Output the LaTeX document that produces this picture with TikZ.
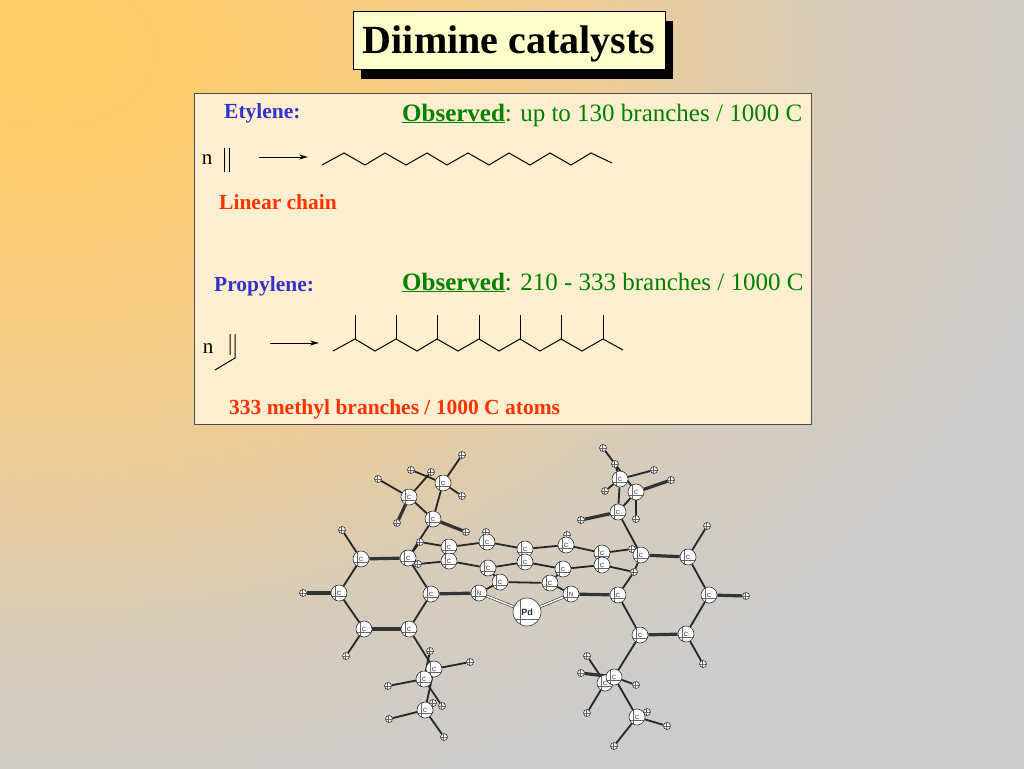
\documentclass[tikz,border=0pt]{standalone}
\usepackage{fontspec}
\setmainfont{Liberation Serif}
\setsansfont{Liberation Sans}
\usetikzlibrary{arrows.meta,shadows}

\definecolor{boxfill}{RGB}{255,239,208}
\definecolor{titlefill}{RGB}{255,255,204}
\definecolor{namecol}{RGB}{51,51,204}
\definecolor{seencol}{RGB}{0,128,0}
\definecolor{notecol}{RGB}{255,51,0}
\pgfdeclareradialshading{slidebg}{\pgfpoint{0bp}{0bp}}{%
    rgb(0bp)=(1,0.8,0.4);
    rgb(0.9bp)=(1,0.8,0.4);
    rgb(5.7bp)=(0.96,0.8,0.51);
    rgb(8.6bp)=(0.93,0.8,0.59);
    rgb(12.5bp)=(0.84,0.8,0.73);
    rgb(16.4bp)=(0.8,0.8,0.8);
    rgb(50bp)=(0.8,0.8,0.8)}
\pgfdeclarelayer{bonds}
\pgfsetlayers{bonds,main}

\begin{document}
\begin{tikzpicture}
        [
            x = 1pt, y = -1pt,
            every node/.style = {inner sep = 0pt},
            title/.style = {draw = black, line width = 0.8pt, fill = titlefill, minimum width = 312pt, minimum height = 58pt,
                    text height = 27pt, text depth = 1pt,
                    font = \fontsize{40}{46}\selectfont\bfseries,
                    drop shadow = {shadow xshift = 8pt, shadow yshift = -10pt, fill = black, opacity = 1}},
            panel/.style = {draw = black!70, line width = 0.8pt, fill = boxfill},
            monomer/.style = {font = \fontsize{21.5}{25}\selectfont\bfseries, text = namecol, anchor = base west},
            seen/.style = {font = \fontsize{25}{29}\selectfont, text = seencol, anchor = base west},
            note/.style = {font = \fontsize{21.5}{25}\selectfont\bfseries, text = notecol, anchor = base west},
            count/.style = {font = \fontsize{21}{24}\selectfont, anchor = base},
            skeleton/.style = {line width = 1pt, line join = miter, black},
            react/.style = {line width = 1pt, -{Stealth[length = 9pt, width = 5pt]}},
            ball/.style = {circle, draw = black!80, line width = 0.6pt, fill = white, text = black!85},
            catom/.style = {ball, minimum size = 16pt, font = \sffamily\fontsize{6}{7}\selectfont,
                    path picture = {\draw[black!60, line width = 0.3pt]
                            ([xshift = -3.5pt]path picture bounding box.north) -- ([xshift = -3.5pt]path picture bounding box.south)
                            ([yshift = -3.5pt]path picture bounding box.west) -- ([yshift = -3.5pt]path picture bounding box.east);}},
            hatom/.style = {ball, minimum size = 7pt,
                    path picture = {\draw[black!60, line width = 0.3pt]
                            ([xshift = -0.5pt]path picture bounding box.north) -- ([xshift = -0.5pt]path picture bounding box.south)
                            (path picture bounding box.west) -- (path picture bounding box.east);}},
            patom/.style = {ball, minimum size = 28pt, font = \sffamily\bfseries\fontsize{9}{10}\selectfont,
                    path picture = {\draw[black!60, line width = 0.4pt]
                            ([xshift = -7pt]path picture bounding box.north) -- ([xshift = -7pt]path picture bounding box.south)
                            ([yshift = -7pt]path picture bounding box.west) -- ([yshift = -7pt]path picture bounding box.east);}},
            bond/.style = {line width = 1.8pt, black!85},
            heavybond/.style = {line width = 3.2pt, black!80},
            pdbond/.style = {line width = 0.6pt, draw = black!80, double = white, double distance = 1.5pt},
        ]

        \useasboundingbox (0,0) rectangle (1024,768);
        \begin{pgfonlayer}{bonds}
            \begin{scope}
                \clip (0,0) rectangle (1024,768);
                \shade[shading = slidebg] (50,50) ellipse (1587 and 1190);
            \end{scope}
        \end{pgfonlayer}

        \node[title] (heading) at (509,40) {Diimine catalysts};
        \draw[panel] (194,93) rectangle (811,424);

        \node[monomer] (etylene) at (224,118) {Etylene:};
        \node[seen] (seenA) at (402,121) {\textbf{\underline{Observed}}: up to 130 branches / 1000 C};
        \node[count] (nA) at (207,164) {n};
        \node[note] (linear) at (219,209) {Linear chain};
        \node[monomer] (propylene) at (214,291) {Propylene:};
        \node[seen] (seenB) at (402,290) {\textbf{\underline{Observed}}: 210 - 333 branches / 1000 C};
        \node[count] (nB) at (208,353) {n};
        \node[note] (methyl) at (229,414) {333 methyl branches / 1000 C atoms};

        % monomers and arrows
        \draw[skeleton] (224,148) -- (224,172) (229,148) -- (229,172);
        \draw[skeleton] (230,334) -- (230,355) (235,334) -- (235,358) -- (215,370);
        \coordinate (arrowAs) at (259,157);
        \coordinate (arrowAe) at (308,157);
        \coordinate (arrowBs) at (270,343);
        \coordinate (arrowBe) at (319,343);
        \draw[react] (arrowAs) -- (arrowAe);
        \draw[react] (arrowBs) -- (arrowBe);

        % polymer chains
        \draw[skeleton] (322,165) -- (344,153) -- (365,165) -- (385,153) -- (406,165) -- (427,153) -- (447,165) -- (468,153)
                -- (489,165) -- (509,153) -- (530,165) -- (550,153) -- (571,165) -- (591,153) -- (612,163);
        \draw[skeleton] (333,351) -- (355,339) -- (375,351) -- (396,339) -- (417,351) -- (437,339) -- (458,351) -- (479,339)
                -- (499,351) -- (520,339) -- (540,351) -- (561,339) -- (582,351) -- (603,339) -- (623,350);
        \foreach \px in {355,396,437,479,520,561,603}
            \draw[skeleton] (\px,339) -- (\px,315);

        % hydrogens, then carbons, then the metal
        \foreach \name/\px/\py in {
                ha/462/455, hb/462/496, hc/431/472, hd/411/470, he/378/479, hf/397/523, hg/466/532,
                hh/486/532, hi/567/535, hj/342/530, hk/303/593, hl/346/656, hm/430/651, hn/470/662,
                ho/388/686, hp/442/706, hq/433/703, hr/389/719, hs/444/737,
                ht/603/448, hu/615/464, hv/654/470, hw/605/491, hx/671/480, hy/636/519, hz/581/520,
                ia/707/526, ib/746/596, ic/703/664, id/587/656, ie/581/673, if/636/685, ig/587/713,
                ih/647/712, ii/667/726, ij/614/746, ik/420/542, il/418/564, im/632/549, in/634/572}
            \node[hatom] (\name) at (\px,\py) {};

        \foreach \name/\px/\py in {
                ca/443/483, cb/409/497, cc/433/519, cd/449/547, ce/449/561, cf/487/542, cg/488/568,
                ch/525/549, ci/525/562, cj/566/545, ck/563/569, cl/602/553, cm/602/565, cn/500/582,
                co/550/583, cp/408/558, cq/361/559, cr/339/593, cs/364/629, ct/409/629, cu/431/594,
                cv/618/595, cw/640/635, cx/686/634, cy/709/595, cz/688/557, da/641/555, db/618/512,
                dc/620/479, dd/636/492, de/434/669, df/424/679, dg/425/710, dh/605/683, di/614/677,
                dj/637/717}
            \node[catom] (\name) at (\px,\py) {C};

        \node[catom] (nleft) at (479,593) {N};
        \node[catom] (nright) at (571,594) {N};
        \node[patom] (pd) at (527,612) {Pd};

        \begin{pgfonlayer}{bonds}
            \foreach \from/\to in {
                    cc/ca, cc/cb, cc/cp, ca/ha, ca/hb, ca/hd, cb/hc, cb/he,
                    ik/cd, cd/cf, cf/ch, ch/cj, cj/cl, cl/im, il/ce, ce/cg, cg/ci, ci/ck, ck/cm, cm/in,
                    cd/ce, ch/ci, cl/cm, cf/hh, cj/hi, cg/cn, ck/co, cn/co, cn/nleft, co/nright,
                    cq/hj, cq/cr, cr/cs, cs/hl, ct/cu, cu/cp, cp/ik, cp/il, ct/de, de/hn, de/df, de/dg, df/hm,
                    df/ho, df/hp, dg/hr, dg/hs, dg/hq,
                    da/db, da/im, da/in, in/cv, cz/ia, cz/cy, cy/cx, cx/ic, cw/cv, cw/di, db/dc, db/dd,
                    dd/hy, dd/ht, dc/hu, dc/hv, dc/hw, di/dj, di/if, di/dh, dh/id, dh/ig, dj/ih, dj/ii, dj/ij}
                \draw[bond] (\from) -- (\to);
            \foreach \from/\to in {
                    cc/hg, cb/hf, cu/nleft, cv/nright, cp/cq, cr/hk, cs/ct, da/cz, cy/ib, cx/cw, db/hz, dd/hx, di/ie}
                \draw[heavybond] (\from) -- (\to);
            \draw[pdbond] (nleft) -- (pd);
            \draw[pdbond] (nright) -- (pd);
        \end{pgfonlayer}

    \end{tikzpicture}
\end{document}
